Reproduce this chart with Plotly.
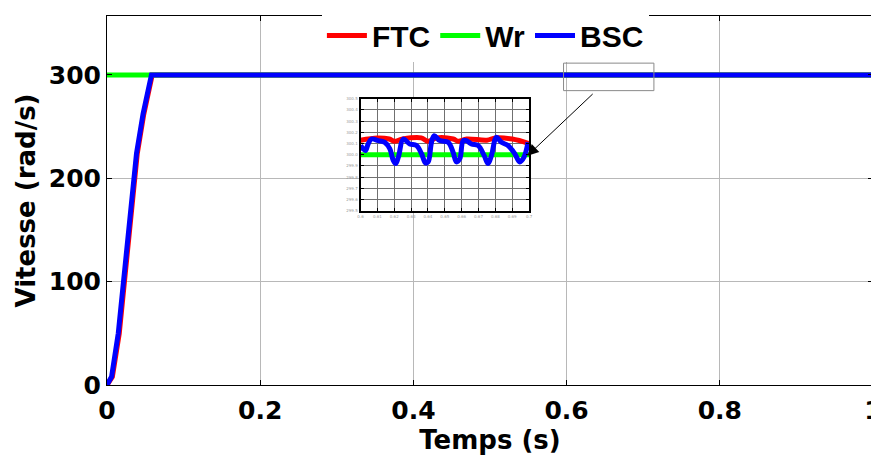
import plotly.graph_objects as go

# ---- main chart data ----
t_ftc = [0, 0.007, 0.016, 0.024, 0.033, 0.0395, 0.048, 0.055, 0.059, 1.0]
v_ftc = [0, 8, 50, 107, 176, 224, 262, 290, 300, 300]
t_wr = [0, 1.0]
v_wr = [300, 300]
t_bsc = [0, 0.006, 0.0147, 0.023, 0.032, 0.0385, 0.047, 0.054, 0.058, 1.0]
v_bsc = [0, 8, 50, 107, 176, 224, 262, 290, 300, 300]

# ---- inset (zoom) data ----
tz_ftc = [0.6, 0.61, 0.617, 0.62, 0.625, 0.636, 0.64, 0.645, 0.655, 0.658, 0.663, 0.675, 0.68, 0.69, 0.7]
vz_ftc = [300.13, 300.15, 300.14, 300.12, 300.14, 300.15, 300.12, 300.15, 300.14, 300.12, 300.14, 300.13, 300.15, 300.14, 300.10]
tz_wr = [0.6, 0.7]
vz_wr = [300.0, 300.0]
tz_bsc = [0.6, 0.6016, 0.6030, 0.6045, 0.6065, 0.6105, 0.6144, 0.6174, 0.6194, 0.6209,
          0.6227, 0.6253, 0.6292, 0.6332, 0.6362, 0.6385, 0.6401, 0.6421, 0.6437, 0.6470,
          0.6520, 0.6549, 0.6569, 0.6589, 0.6609, 0.6628, 0.6658, 0.6698, 0.6733, 0.6757,
          0.6777, 0.6806, 0.6836, 0.6875, 0.6915, 0.6945, 0.6970, 0.6994]
vz_bsc = [300.082, 300.053, 300.038, 300.096, 300.140, 300.126, 300.111, 300.053, 299.950, 299.921,
          299.994, 300.140, 300.096, 300.082, 300.009, 299.927, 299.936, 300.111, 300.170, 300.126,
          300.111, 300.023, 299.936, 299.965, 300.126, 300.126, 300.096, 300.082, 299.994, 299.921,
          299.994, 300.155, 300.111, 300.082, 300.009, 299.936, 299.979, 300.111]

x_ticks = [0, 0.2, 0.4, 0.6, 0.8, 1.0]
x_labels = ["0", "0.2", "0.4", "0.6", "0.8", "1"]
y_ticks = [0, 100, 200, 300]
zoom_box = dict(x0=0.596, x1=0.714, y0=284.8, y1=311.4)

RED, GREEN, BLUE = "#ff0000", "#00ff00", "#0000ff"
TICKFONT = dict(family="DejaVu Sans", size=25, color="black", weight="bold")
TITLEFONT = dict(family="DejaVu Sans", size=26, color="black", weight="bold")

fig = go.Figure()
fig.add_trace(go.Scatter(x=t_ftc, y=v_ftc, mode="lines", name="FTC",
                         line=dict(color=RED, width=5)))
fig.add_trace(go.Scatter(x=t_wr, y=v_wr, mode="lines", name="Wr",
                         line=dict(color=GREEN, width=5)))
fig.add_trace(go.Scatter(x=t_bsc, y=v_bsc, mode="lines", name="BSC",
                         line=dict(color=BLUE, width=5)))

# inset traces
fig.add_trace(go.Scatter(x=tz_ftc, y=vz_ftc, mode="lines", showlegend=False,
                         line=dict(color=RED, width=5, shape="spline"), xaxis="x2", yaxis="y2"))
fig.add_trace(go.Scatter(x=tz_wr, y=vz_wr, mode="lines", showlegend=False,
                         line=dict(color=GREEN, width=5), xaxis="x2", yaxis="y2"))
fig.add_trace(go.Scatter(x=tz_bsc, y=vz_bsc, mode="lines", showlegend=False,
                         line=dict(color=BLUE, width=5, shape="spline"), xaxis="x2", yaxis="y2"))

# The page body adds an 8px margin, so the figure is sized to fill the rest of the window.
fig.update_layout(
    width=871, height=449,
    margin=dict(l=99, r=2, t=2, b=72),
    paper_bgcolor="white", plot_bgcolor="white",
    showlegend=True,
    legend=dict(orientation="h", x=0.494, xanchor="center", y=0.947, yanchor="middle",
                font=dict(family="Liberation Sans", size=30, color="black", weight="bold"),
                bgcolor="white", borderwidth=0, itemwidth=40, tracegroupgap=0),
    xaxis=dict(range=[0, 1], tickvals=x_ticks, ticktext=x_labels,
               showgrid=True, gridcolor="#b8b8b8", gridwidth=1, zeroline=False,
               showline=True, linecolor="black", linewidth=1, mirror="ticks",
               ticks="inside", ticklen=5, tickcolor="black", tickfont=TICKFONT,
               ticklabelstandoff=3, ticklabeloverflow="allow",
               title=dict(text="Temps (s)", font=TITLEFONT, standoff=3), automargin=False),
    yaxis=dict(range=[0, 357], tickvals=y_ticks,
               showgrid=True, gridcolor="#b8b8b8", gridwidth=1, zeroline=False,
               showline=True, linecolor="black", linewidth=1, mirror="ticks",
               ticks="inside", ticklen=5, tickcolor="black", tickfont=TICKFONT,
               title=dict(text="Vitesse (rad/s)", font=TITLEFONT, standoff=5), automargin=False),
    xaxis2=dict(domain=[0.331, 0.551], anchor="y2", range=[0.6, 0.7], dtick=0.01,
                showgrid=True, gridcolor="#707070", gridwidth=1, zeroline=False,
                showline=True, linecolor="black", linewidth=2, mirror="ticks",
                ticks="inside", ticklen=3, tickcolor="black",
                tickfont=dict(family="DejaVu Sans", size=4, color="#999999")),
    yaxis2=dict(domain=[0.472, 0.776], anchor="x2", range=[299.5, 300.5], dtick=0.1,
                showgrid=True, gridcolor="#707070", gridwidth=1, zeroline=False,
                showline=True, linecolor="black", linewidth=2, mirror="ticks",
                ticks="inside", ticklen=3, tickcolor="black", tickformat=".1f",
                tickfont=dict(family="DejaVu Sans", size=4, color="#999999")),
    shapes=[dict(type="rect", xref="x", yref="y", **zoom_box,
                 line=dict(color="#8a8a8a", width=1), fillcolor="rgba(0,0,0,0)")],
    annotations=[dict(xref="x", yref="y", axref="x", ayref="y",
                      x=0.549, y=221.9, ax=0.636, ay=282.9, text="",
                      showarrow=True, arrowhead=2, arrowsize=2.2, arrowwidth=1,
                      arrowcolor="black")],
)

fig.write_html("out.html")
